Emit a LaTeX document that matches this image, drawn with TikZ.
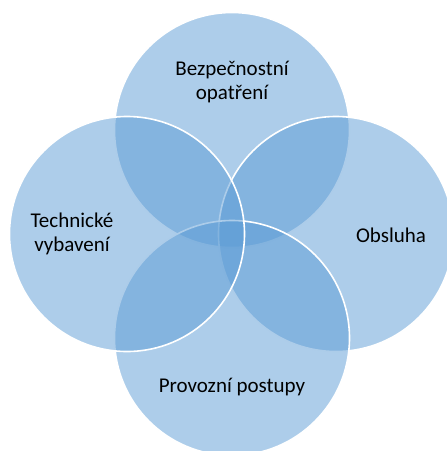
\documentclass[tikz,border=0pt]{standalone}
\usepackage{fontspec}
\setmainfont{Carlito}
\definecolor{vennblue}{HTML}{5B9BD5}
\begin{document}
\begin{tikzpicture}[x=1pt,y=-1pt,
  venn/.style={circle, minimum size=235pt, inner sep=0pt,
    fill=vennblue, fill opacity=0.5, draw=white, draw opacity=1, line width=1.6pt},
  vlabel/.style={font=\fontsize{21}{23.5}\selectfont, align=center, text=black}]
  \clip (0,0) rectangle (447,451);
  % circles, back to front
  \node[venn] (top)    at (232,130) {};
  \node[venn] (right)  at (336,234) {};
  \node[venn] (bottom) at (232,338) {};
  \node[venn] (left)   at (127,234) {};
  % labels
  \node[vlabel] (ltop)    at (232,82)  {Bezpečnostní\\opatření};
  \node[vlabel] (lright)  at (391,235) {Obsluha};
  \node[vlabel] (lbottom) at (232,387) {Provozní postupy};
  \node[vlabel] (lleft)   at (72,234)  {Technické\\vybavení};
\end{tikzpicture}
\end{document}
